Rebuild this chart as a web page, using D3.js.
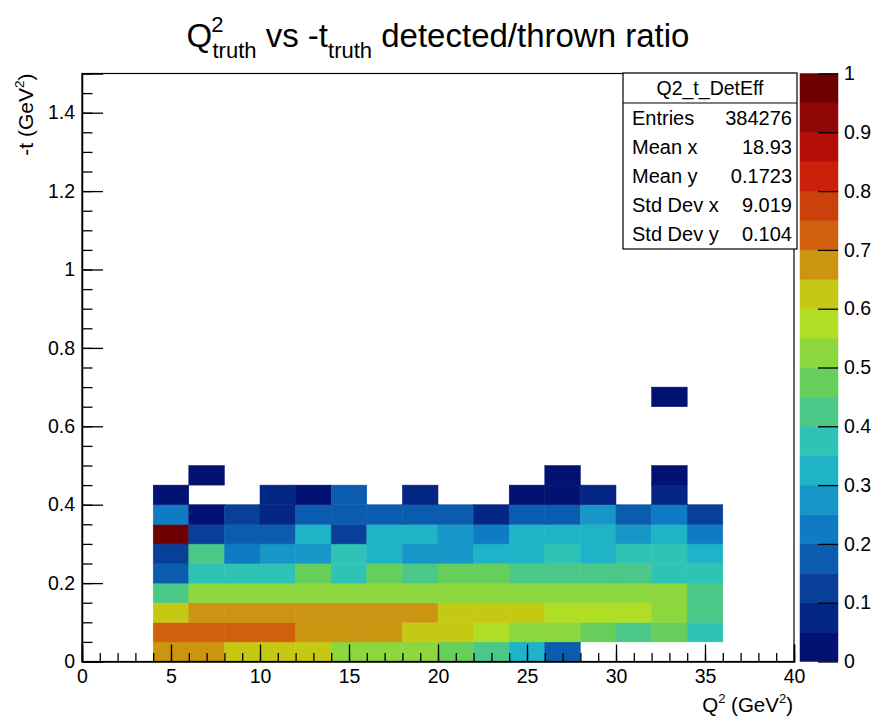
<!DOCTYPE html>
<html>
<head>
<meta charset="utf-8">
<script src="https://cdn.jsdelivr.net/npm/d3@7"></script>
<style>
  body { margin: 0; background: #fff; }
  svg { font-family: "Liberation Sans", Arial, Helvetica, sans-serif; }
</style>
</head>
<body>
<div id="chart"></div>
<script>
// Q2 bin lower edges (GeV^2), bin width 2
const q2Edges = [4, 6, 8, 10, 12, 14, 16, 18, 20, 22, 24, 26, 28, 30, 32, 34];
// -t bin lower edges (GeV^2), bin width 0.05
const tEdges = [0.00, 0.05, 0.10, 0.15, 0.20, 0.25, 0.30, 0.35, 0.40, 0.45, 0.65];

// detected/thrown ratio per -t row (one value per Q2 bin, null = empty)
const ratioT000 = [0.675, 0.675, 0.625, 0.625, 0.625, 0.525, 0.525, 0.525, 0.475, 0.425, 0.325, 0.175, null, null, null, null];
const ratioT005 = [0.725, 0.725, 0.725, 0.725, 0.675, 0.675, 0.675, 0.625, 0.625, 0.575, 0.525, 0.525, 0.475, 0.425, 0.475, 0.375];
const ratioT010 = [0.625, 0.675, 0.675, 0.675, 0.675, 0.675, 0.675, 0.675, 0.625, 0.625, 0.625, 0.575, 0.575, 0.575, 0.525, 0.425];
const ratioT015 = [0.425, 0.525, 0.525, 0.525, 0.525, 0.525, 0.525, 0.525, 0.525, 0.525, 0.525, 0.525, 0.525, 0.525, 0.525, 0.425];
const ratioT020 = [0.175, 0.375, 0.375, 0.375, 0.475, 0.375, 0.475, 0.425, 0.475, 0.475, 0.425, 0.425, 0.425, 0.425, 0.375, 0.375];
const ratioT025 = [0.125, 0.425, 0.225, 0.275, 0.275, 0.375, 0.325, 0.275, 0.275, 0.325, 0.325, 0.375, 0.325, 0.375, 0.375, 0.325];
const ratioT030 = [0.975, 0.125, 0.175, 0.175, 0.325, 0.125, 0.325, 0.325, 0.275, 0.225, 0.325, 0.325, 0.325, 0.275, 0.325, 0.225];
const ratioT035 = [0.225, 0.025, 0.125, 0.075, 0.175, 0.175, 0.175, 0.175, 0.175, 0.075, 0.175, 0.175, 0.275, 0.175, 0.225, 0.125];
const ratioT040 = [0.025, null, null, 0.075, 0.025, 0.175, null, 0.075, null, null, 0.025, 0.025, 0.075, null, 0.075, null];
const ratioT045 = [null, 0.025, null, null, null, null, null, null, null, null, null, 0.025, null, null, 0.025, null];
const ratioT065 = [null, null, null, null, null, null, null, null, null, null, null, null, null, null, 0.025, null];
const ratioRows = [ratioT000, ratioT005, ratioT010, ratioT015, ratioT020, ratioT025, ratioT030, ratioT035, ratioT040, ratioT045, ratioT065];

// stats box
const statNames = ["Entries", "Mean x", "Mean y", "Std Dev x", "Std Dev y"];
const statValues = ["384276", "18.93", "0.1723", "9.019", "0.104"];

const xTicks = [0, 5, 10, 15, 20, 25, 30, 35, 40];
const yTicks = [0, 0.2, 0.4, 0.6, 0.8, 1, 1.2, 1.4];
const zTicks = [0, 0.1, 0.2, 0.3, 0.4, 0.5, 0.6, 0.7, 0.8, 0.9, 1];

// ROOT kRainBow palette stops
const palStops = [0, 0.125, 0.25, 0.375, 0.5, 0.625, 0.75, 0.875, 1];
const palR = [0, 5, 15, 35, 102, 196, 208, 199, 110];
const palG = [0, 48, 124, 192, 206, 226, 97, 16, 0];
const palB = [99, 142, 198, 201, 90, 22, 13, 8, 2];

function rainbow(t) {
  let i = 0;
  while (i < palStops.length - 2 && t > palStops[i + 1]) i++;
  const f = (t - palStops[i]) / (palStops[i + 1] - palStops[i]);
  const c = (a) => Math.round(a[i] + (a[i + 1] - a[i]) * f);
  return `rgb(${c(palR)},${c(palG)},${c(palB)})`;
}

const nLevels = 20;
const levelColors = d3.range(nLevels).map((i) => rainbow(Math.floor((i + 0.99) * 255 / nLevels) / 254));

const W = 874, H = 717;
const padL = 82, padR = 794, padT = 73.5, padB = 661.5;

const svg = d3.select("#chart").append("svg").attr("width", W).attr("height", H);

const x = d3.scaleLinear().domain([0, 40]).range([padL, padR]);
const y = d3.scaleLinear().domain([0, 1.5]).range([padB, padT]);
const color = d3.scaleQuantize().domain([0, 1]).range(levelColors);

// cells
const cells = [];
ratioRows.forEach((row, r) => {
  row.forEach((v, c) => {
    if (v !== null) cells.push({ x0: q2Edges[c], t0: tEdges[r], v: v });
  });
});

svg.append("g")
  .selectAll("rect")
  .data(cells)
  .enter()
  .append("rect")
  .attr("x", (d) => x(d.x0))
  .attr("y", (d) => y(d.t0 + 0.05))
  .attr("width", (d) => x(d.x0 + 2) - x(d.x0))
  .attr("height", (d) => y(d.t0) - y(d.t0 + 0.05))
  .attr("fill", (d) => color(d.v))
  .attr("stroke", (d) => color(d.v))
  .attr("stroke-width", 0.5);

// frame
svg.append("rect")
  .attr("x", padL).attr("y", padT)
  .attr("width", padR - padL).attr("height", padB - padT)
  .attr("fill", "none").attr("stroke", "#000").attr("stroke-width", 1.2);

// x axis: minor + major ticks inside
svg.append("g")
  .attr("transform", `translate(0,${padB})`)
  .call(d3.axisBottom(x).tickValues(d3.range(0, 41, 1)).tickSize(-8.5).tickFormat(""))
  .call((g) => g.select(".domain").remove());
const xAxis = svg.append("g")
  .attr("transform", `translate(0,${padB})`)
  .call(d3.axisBottom(x).tickValues(xTicks).tickSize(-17).tickPadding(8).tickFormat(d3.format("d")));
xAxis.select(".domain").attr("stroke-width", 1.5);

// y axis
svg.append("g")
  .attr("transform", `translate(${padL},0)`)
  .call(d3.axisLeft(y).tickValues(d3.range(0, 31).map((i) => i * 0.05)).tickSize(-10.5).tickFormat(""))
  .call((g) => g.select(".domain").remove());
const yAxis = svg.append("g")
  .attr("transform", `translate(${padL},0)`)
  .call(d3.axisLeft(y).tickValues(yTicks).tickSize(-21).tickPadding(7).tickFormat((d) => d3.format("")(+d.toFixed(1))));
yAxis.select(".domain").attr("stroke-width", 1.5);

svg.selectAll(".tick line").attr("stroke", "#000").attr("stroke-width", 1.3);
svg.selectAll(".tick text").attr("font-size", 19.5).attr("fill", "#000").attr("font-family", "Liberation Sans, Arial, sans-serif");

// axis titles
const xTitle = svg.append("text")
  .attr("x", padR - 1).attr("y", 712)
  .attr("text-anchor", "end").attr("font-size", 20.5);
xTitle.append("tspan").text("Q");
xTitle.append("tspan").attr("font-size", 13).attr("dy", -9).text("2");
xTitle.append("tspan").attr("dy", 9).text(" (GeV");
xTitle.append("tspan").attr("font-size", 13).attr("dy", -9).text("2");
xTitle.append("tspan").attr("dy", 9).text(")");

const yTitle = svg.append("text")
  .attr("transform", `translate(33,${padT}) rotate(-90)`)
  .attr("text-anchor", "end").attr("font-size", 21);
yTitle.append("tspan").text("-t (GeV");
yTitle.append("tspan").attr("font-size", 13.5).attr("dy", -9).text("2");
yTitle.append("tspan").attr("dy", 9).text(")");

// title
const title = svg.append("text")
  .attr("x", 438).attr("y", 47)
  .attr("text-anchor", "middle").attr("font-size", 33);
title.append("tspan").text("Q");
title.append("tspan").attr("font-size", 22).attr("dx", -1).attr("dy", -15).text("2");
title.append("tspan").attr("font-size", 22).attr("dx", -11).attr("dy", 26).text("truth");
title.append("tspan").attr("dy", -11).text(" vs -t");
title.append("tspan").attr("font-size", 22).attr("dy", 11).text("truth");
title.append("tspan").attr("dy", -11).text(" detected/thrown ratio");

// color bar
const zLeft = 800, zRight = 838;
const z = d3.scaleLinear().domain([0, 1]).range([padB, padT]);
svg.append("g")
  .selectAll("rect")
  .data(levelColors)
  .enter()
  .append("rect")
  .attr("x", zLeft)
  .attr("y", (d, i) => z((i + 1) / nLevels))
  .attr("width", zRight - zLeft)
  .attr("height", (d, i) => z(i / nLevels) - z((i + 1) / nLevels))
  .attr("fill", (d) => d)
  .attr("stroke", (d) => d)
  .attr("stroke-width", 0.5);

const zAxis = svg.append("g")
  .attr("transform", `translate(${zRight},0)`)
  .call(d3.axisRight(z).tickValues(zTicks).tickSize(-20).tickPadding(6).tickFormat((d) => d3.format("")(+d.toFixed(1))));
zAxis.select(".domain").remove();
zAxis.selectAll(".tick line").attr("stroke", "#000").attr("stroke-width", 1.3);
zAxis.selectAll(".tick text").attr("font-size", 19.5).attr("fill", "#000").attr("font-family", "Liberation Sans, Arial, sans-serif");

// stats box
const bx0 = 623, bx1 = 797, by0 = 73, by1 = 249, hdr = 103;
const box = svg.append("g");
box.append("rect")
  .attr("x", bx0).attr("y", by0)
  .attr("width", bx1 - bx0).attr("height", by1 - by0)
  .attr("fill", "#fff").attr("stroke", "#000").attr("stroke-width", 1.2);
box.append("line")
  .attr("x1", bx0).attr("x2", bx1).attr("y1", hdr).attr("y2", hdr)
  .attr("stroke", "#000").attr("stroke-width", 1.2);
box.append("text")
  .attr("x", (bx0 + bx1) / 2).attr("y", 95)
  .attr("text-anchor", "middle").attr("font-size", 19.5)
  .text("Q2_t_DetEff");

const rowH = (by1 - hdr) / statNames.length;
box.selectAll(".sname")
  .data(statNames)
  .enter()
  .append("text")
  .attr("class", "sname")
  .attr("x", bx0 + 9)
  .attr("y", (d, i) => hdr + rowH * (i + 0.5) + 7)
  .attr("font-size", 20)
  .text((d) => d);
box.selectAll(".sval")
  .data(statValues)
  .enter()
  .append("text")
  .attr("class", "sval")
  .attr("x", bx1 - 5)
  .attr("y", (d, i) => hdr + rowH * (i + 0.5) + 7)
  .attr("text-anchor", "end")
  .attr("font-size", 20)
  .text((d) => d);
</script>
</body>
</html>
